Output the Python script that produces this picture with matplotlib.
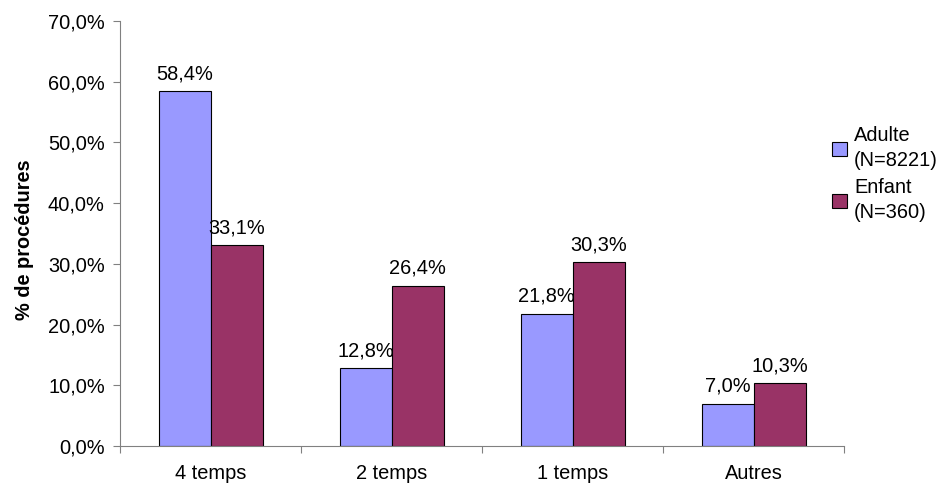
import matplotlib
matplotlib.use('Agg')
import matplotlib.pyplot as plt
from matplotlib.patches import Patch
import numpy as np

plt.rcParams['font.family'] = ['Liberation Sans', 'DejaVu Sans']

categories = ['4 temps', '2 temps', '1 temps', 'Autres']
adulte = [58.4, 12.8, 21.8, 7.0]
enfant = [33.1, 26.4, 30.3, 10.3]
series_names = ['Adulte\n(N=8221)', 'Enfant\n(N=360)']
y_ticks = [0, 10, 20, 30, 40, 50, 60, 70]

col_adulte = '#9999FF'
col_enfant = '#993366'
fs = 14.4


def pct(v):
    return ('%.1f%%' % v).replace('.', ',')


fig = plt.figure(figsize=(9.4, 4.86), dpi=100)
ax = fig.add_axes([0.1277, 0.0823, 0.7703, 0.8745])

x = np.arange(len(categories))
w = 0.287
ax.bar(x - w / 2, adulte, w, color=col_adulte, edgecolor='black', linewidth=0.8)
ax.bar(x + w / 2, enfant, w, color=col_enfant, edgecolor='black', linewidth=0.8)

for i in range(len(categories)):
    ax.annotate(pct(adulte[i]), (x[i] - w / 2, adulte[i]), xytext=(0, 8.6),
                textcoords='offset points', ha='center', va='baseline', fontsize=fs)
    ax.annotate(pct(enfant[i]), (x[i] + w / 2, enfant[i]), xytext=(0, 8.6),
                textcoords='offset points', ha='center', va='baseline', fontsize=fs)

ax.set_xlim(-0.5, len(categories) - 0.5)
ax.set_ylim(0, 70)
ax.set_yticks(y_ticks)
ax.set_yticklabels([pct(v) for v in y_ticks], fontsize=fs)

# category labels in the middle, ticks on the boundaries
ax.set_xticks(np.arange(len(categories) + 1) - 0.5)
ax.set_xticklabels([])
ax.set_xticks(x, minor=True)
ax.set_xticklabels(categories, minor=True, fontsize=fs)
ax.tick_params(axis='x', which='minor', length=0, pad=13)
ax.tick_params(axis='x', which='major', length=5, color='#808080')
ax.tick_params(axis='y', length=5, color='#808080', pad=6)

for s in ['top', 'right']:
    ax.spines[s].set_visible(False)
for s in ['left', 'bottom']:
    ax.spines[s].set_color('#808080')

ax.set_ylabel('% de procédures', fontsize=fs, fontweight='bold', labelpad=10)
ax.yaxis.label.set_y(0.485)

handles = [Patch(facecolor=col_adulte, edgecolor='black', linewidth=0.8),
           Patch(facecolor=col_enfant, edgecolor='black', linewidth=0.8)]
leg = fig.legend(handles, series_names, loc='upper left', bbox_to_anchor=(0.885, 0.74),
                 frameon=False, fontsize=fs, handlelength=0.75, handleheight=0.75,
                 handletextpad=0.35, labelspacing=0.4, borderpad=0, borderaxespad=0)
for t in leg.get_texts():
    t.set_linespacing(1.4)

fig.savefig('out.png', dpi=100)
